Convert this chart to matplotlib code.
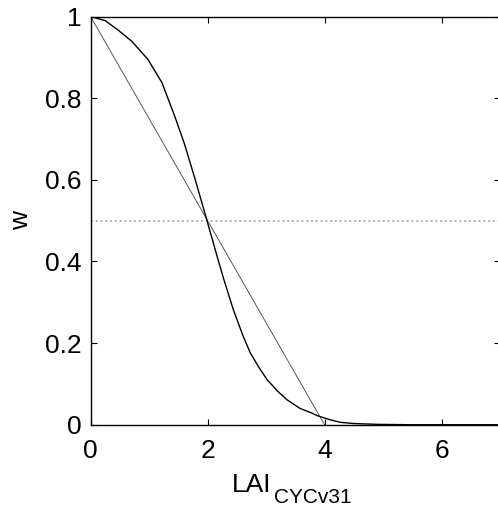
import matplotlib
matplotlib.use("Agg")
import matplotlib.pyplot as plt

# curve w(LAI)
lai = [0, 0.25, 0.46, 0.7, 0.98, 1.22, 1.44, 1.6, 1.8, 2.0, 2.18, 2.28, 2.44,
       2.6, 2.73, 2.88, 3.02, 3.2, 3.36, 3.58, 3.76, 3.88, 4.1, 4.27, 4.5,
       4.9, 5.5, 6.0, 7.0]
w = [1.0, 0.99, 0.968, 0.94, 0.895, 0.838, 0.755, 0.69, 0.595, 0.495, 0.404,
     0.355, 0.282, 0.22, 0.176, 0.14, 0.11, 0.082, 0.061, 0.04, 0.03, 0.022,
     0.012, 0.006, 0.003, 0.001, 0.0, 0.0, 0.0]

# straight line and the 0.5 reference
lin_x = [0, 4]
lin_y = [1, 0]
half_x = [0, 7]
half_y = [0.5, 0.5]

xticks = [0, 2, 4, 6]
yticks = [0, 0.2, 0.4, 0.6, 0.8, 1]
yticklabels = ["0", "0.2", "0.4", "0.6", "0.8", "1"]

plt.rcParams['font.family'] = ['Liberation Sans', 'DejaVu Sans']

fig = plt.figure(figsize=(4.98, 5.18), dpi=100)
ax = fig.add_axes([0.182, 0.18, 0.822, 0.788])

ax.plot(half_x, half_y, ':', color="#a8a8a8", lw=1.3)
ax.plot(lin_x, lin_y, '-', color="#555555", lw=0.7)
ax.plot(lai, w, '-', color="black", lw=1.0)

ax.set_xlim(0, 7)
ax.set_ylim(0, 1)
ax.set_xticks(xticks)
ax.set_xticklabels([str(t) for t in xticks])
ax.set_yticks(yticks)
ax.set_yticklabels(yticklabels)
ax.tick_params(direction='in', length=4, width=0.8, top=True, right=True,
               labelsize=19)
ax.tick_params(axis='y', pad=6.5)
ax.tick_params(axis='x', pad=10)
for s in ax.spines.values():
    s.set_linewidth(1.0)

# x label with a MATLAB-like subscript
fig.text(232 / 498, 1 - 492 / 518, "LAI", fontsize=19, ha='left', va='baseline')
fig.text(274 / 498, 1 - 503 / 518, "CYCv31", fontsize=15, ha='left', va='baseline')

ax.set_ylabel("w", fontsize=19)
ax.yaxis.set_label_coords(-0.14, 0.5)

fig.savefig("out.png", dpi=100)
